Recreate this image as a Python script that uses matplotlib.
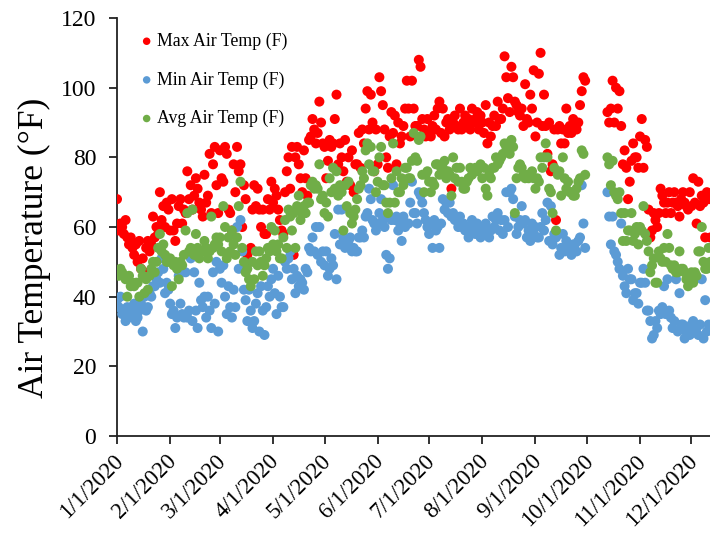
import numpy as np
import matplotlib
matplotlib.use("Agg")
import matplotlib.pyplot as plt
import matplotlib.dates as mdates
from matplotlib.ticker import FuncFormatter, MultipleLocator
from matplotlib.transforms import ScaledTranslation

# daily air temperature, 2020 (deg F); None = no record (logger gap in early October)
START = "2020-01-01"
GAP = [None] * 12

MAX_F = [
    68, 59, 61, 60, 58, 62, 57, 55, 57, 54,
    52, 55, 50, 56, 48, 51, 47, 54, 56, 53,
    55, 63, 57, 60, 58, 70, 62, 66, 60, 67,
    65, 59, 68, 59, 56, 61, 66, 68, 61, 65,
    64, 76, 68, 72, 65, 69, 74, 71, 67, 65,
    63, 75, 67, 69, 81, 64, 78, 83, 72, 64,
    82, 74, 73, 83, 81, 65, 64, 59, 78, 70,
    83, 76, 78, 60, 72, 68, 52, 50, 54, 65,
    72, 66, 71, 65, 60, 65, 58, 58, 68, 65,
    73, 67, 71, 69, 65, 62, 59, 58, 70, 76,
    80, 71, 83, 52, 80, 83, 78, 74, 70, 82,
    74, 69, 85, 86, 91, 88, 84, 87, 96, 90,
    84, 83, 74, 79, 85, 83, 84, 91, 98, 78,
    84, 80, 76, 85, 73, 80, 72, 82, 70, 78,
    78, 87, 77, 88, 84, 94, 99, 88, 98, 90,
    76, 88, 78, 103, 99, 95, 88, 80, 77, 86,
    93, 87, 92, 78, 90, 84, 86, 89, 94, 102,
    94, 86, 102, 94, 89, 89, 108, 106, 91, 88,
    86, 91, 87, 86, 89, 92, 88, 94, 96, 87,
    94, 86, 90, 91, 88, 71, 90, 92, 89, 88,
    94, 88, 90, 92, 89, 91, 88, 94, 90, 91,
    93, 88, 92, 90, 87, 95, 84, 90, 86, 89,
    92, 89, 96, 91, 91, 94, 109, 103, 97, 93,
    106, 103, 96, 95, 93, 92, 94, 89, 101, 91,
    90, 98, 94, 105, 86, 90, 104, 110, 89, 98,
    89, 81, 90, 76, 78, 88, 62, 88, 89, 84,
    88, 84, 94, 87, 89, 87, 91, 90, 88, 90,
    95, 99, 103, 102,
] + GAP + [
    93, 90, 94, 102,
    90, 100, 94, 99, 89, 78, 82, 77, 68, 73,
    79, 84, 80, 80, 77, 86, 91, 77, 85, 83,
    65, 57, 59, 64, 62, 60, 64, 71, 69, 67,
    64, 67, 70, 64, 67, 70, 67, 66, 63, 68,
    70, 67, 66, 65, 70, 66, 74, 67, 61, 73,
    66, 69, 67, 57, 70, 68, 57,
]

MIN_F = [
    39, 37, 40, 35, 36, 33, 37, 34, 36, 35,
    38, 33, 34, 36, 38, 30, 40, 36, 37, 41,
    40, 43, 43, 45, 47, 44, 51, 48, 41, 44,
    42, 38, 35, 36, 31, 34, 46, 38, 35, 34,
    47, 34, 36, 51, 33, 47, 36, 31, 44, 39,
    37, 40, 34, 40, 36, 31, 47, 38, 50, 30,
    48, 44, 49, 40, 35, 43, 37, 34, 42, 37,
    60, 48, 62, 53, 42, 39, 33, 42, 36, 31,
    33, 38, 41, 30, 43, 36, 29, 37, 43, 40,
    45, 48, 41, 35, 46, 40, 37, 37, 50, 48,
    51, 53, 45, 48, 41, 46, 43, 45, 44, 42,
    48, 47, 54, 53, 57, 53, 60, 52, 60, 50,
    53, 49, 53, 46, 48, 51, 49, 58, 45, 65,
    55, 65, 57, 54, 55, 56, 57, 53, 54, 53,
    53, 57, 57, 59, 57, 63, 64, 71, 68, 62,
    61, 59, 61, 64, 68, 62, 60, 52, 48, 51,
    62, 72, 62, 63, 59, 61, 56, 63, 60, 61,
    61, 67, 73, 64, 64, 61, 70, 69, 67, 64,
    62, 60, 58, 61, 54, 62, 59, 60, 54, 61,
    68, 65, 67, 64, 67, 63, 64, 62, 62, 60,
    63, 60, 61, 59, 60, 57, 59, 62, 60, 58,
    61, 59, 57, 60, 58, 61, 58, 57, 59, 63,
    60, 62, 64, 59, 62, 58, 62, 70, 60, 70,
    71, 68, 63, 58, 60, 62, 66, 61, 62, 57,
    59, 56, 61, 58, 60, 57, 57, 60, 64, 59,
    62, 67, 56, 66, 55, 58, 57, 58, 52, 54,
    58, 53, 56, 54, 54, 52, 55, 55, 53, 56,
    57, 72, 61, 54,
] + GAP + [
    70, 63, 55, 63,
    53, 52, 50, 48, 61, 46, 43, 41, 48, 45,
    45, 39, 41, 41, 38, 44, 44, 48, 44, 36,
    36, 33, 28, 29, 33, 31, 36, 35, 37, 43,
    35, 45, 36, 34, 31, 33, 45, 30, 41, 32,
    32, 28, 30, 31, 29, 32, 33, 30, 31, 29,
    32, 45, 28, 39, 30, 32, 31,
]

AVG_F = [
    47, 46, 48, 47, 46, 45, 40, 46, 43, 44,
    43, 44, 44, 40, 48, 46, 41, 45, 42, 46,
    48, 50, 47, 50, 54, 58, 53, 55, 52, 50,
    50, 51, 43, 49, 50, 48, 45, 50, 49, 52,
    59, 64, 53, 54, 65, 52, 58, 54, 51, 53,
    53, 56, 54, 51, 53, 63, 54, 55, 57, 55,
    57, 53, 66, 60, 51, 57, 53, 59, 55, 52,
    57, 66, 73, 54, 50, 47, 48, 45, 43, 50,
    45, 53, 49, 53, 50, 46, 49, 51, 54, 53,
    60, 55, 59, 53, 55, 51, 51, 57, 62, 54,
    65, 63, 59, 64, 54, 66, 69, 62, 64, 66,
    64, 67, 67, 72, 73, 71, 72, 71, 78, 68,
    69, 64, 67, 63, 74, 70, 77, 71, 76, 69,
    72, 70, 59, 72, 66, 73, 64, 61, 63, 65,
    68, 71, 72, 76, 74, 82, 84, 78, 83, 76,
    76, 70, 73, 80, 83, 72, 72, 67, 64, 67,
    74, 84, 67, 76, 70, 70, 74, 72, 77, 77,
    74, 74, 79, 87, 80, 79, 85, 86, 75, 70,
    75, 76, 73, 70, 73, 72, 78, 78, 75, 77,
    77, 79, 74, 76, 75, 69, 80, 74, 77, 73,
    77, 73, 71, 71, 73, 74, 77, 75, 76, 77,
    76, 77, 78, 74, 77, 71, 69, 75, 74, 77,
    77, 80, 78, 79, 80, 81, 84, 83, 84, 81,
    85, 83, 64, 74, 77, 78, 77, 75, 74, 75,
    74, 75, 76, 74, 71, 74, 73, 80, 77, 80,
    84, 80, 71, 70, 64, 77, 59, 75, 76, 69,
    80, 74, 71, 73, 70, 70, 69, 69, 71, 73,
    74, 82, 81, 75,
] + GAP + [
    80, 78, 72, 79,
    70, 69, 68, 70, 64, 56, 64, 56, 59, 59,
    64, 56, 58, 60, 55, 60, 59, 66, 58, 56,
    53, 47, 49, 51, 44, 44, 53, 51, 50, 54,
    50, 58, 54, 49, 48, 49, 47, 47, 53, 48,
    48, 47, 45, 43, 45, 47, 44, 47, 46, 53,
    53, 60, 50, 48, 48, 54, 50,
]

SERIES = [
    ("Max Air Temp (F)", MAX_F, "#FF0000"),
    ("Min Air Temp (F)", MIN_F, "#5B9BD5"),
    ("Avg Air Temp (F)", AVG_F, "#70AD47"),
]

plt.rcParams["font.family"] = ["Liberation Serif", "DejaVu Serif"]

fig = plt.figure(figsize=(7.10, 5.38), dpi=100)
ax = fig.add_axes([0.1648, 0.1896, 0.8352, 0.7769])

start = np.datetime64(START)
for label, vals, col in SERIES:
    y = np.array(vals, dtype=float)
    days = start + np.arange(len(y)).astype("timedelta64[D]")
    ax.scatter(days, y, s=52, color=col, edgecolors="none", label=label, zorder=3)

x0 = mdates.date2num(start)
ax.set_xlim(x0, x0 + 345.8)
ax.set_ylim(0, 120)
ax.yaxis.set_major_locator(MultipleLocator(20))
ax.xaxis.set_major_locator(mdates.MonthLocator())
ax.xaxis.set_major_formatter(FuncFormatter(
    lambda v, _: (lambda d: f"{d.month}/{d.day}/{d.year}")(mdates.num2date(v))))

for side in ("top", "right"):
    ax.spines[side].set_visible(False)
for side in ("left", "bottom"):
    ax.spines[side].set_linewidth(1.3)
    ax.spines[side].set_color("#222222")
ax.tick_params(axis="both", direction="out", length=6, width=1.3, color="#222222")
ax.tick_params(axis="y", labelsize=17, pad=9)
ax.tick_params(axis="x", labelsize=16.5, pad=10)
# rotated date labels end just right of their ticks
shift = ScaledTranslation(3 / 100, 0, fig.dpi_scale_trans)
for lab in ax.get_xticklabels():
    lab.set_rotation(45)
    lab.set_ha("right")
    lab.set_va("center")
    lab.set_rotation_mode("anchor")
    lab.set_transform(lab.get_transform() + shift)

ax.set_ylabel("Air Temperature (°F)", fontsize=25.5)
ax.yaxis.set_label_coords(-0.112, 0.45)

ax.legend(loc="upper left", bbox_to_anchor=(0.041, 0.965), frameon=False,
          fontsize=12.8, handlelength=0.6, handletextpad=0.3, labelspacing=1.2,
          borderpad=0, borderaxespad=0, markerscale=0.75, scatterpoints=1)

fig.savefig("out.png", dpi=100)
